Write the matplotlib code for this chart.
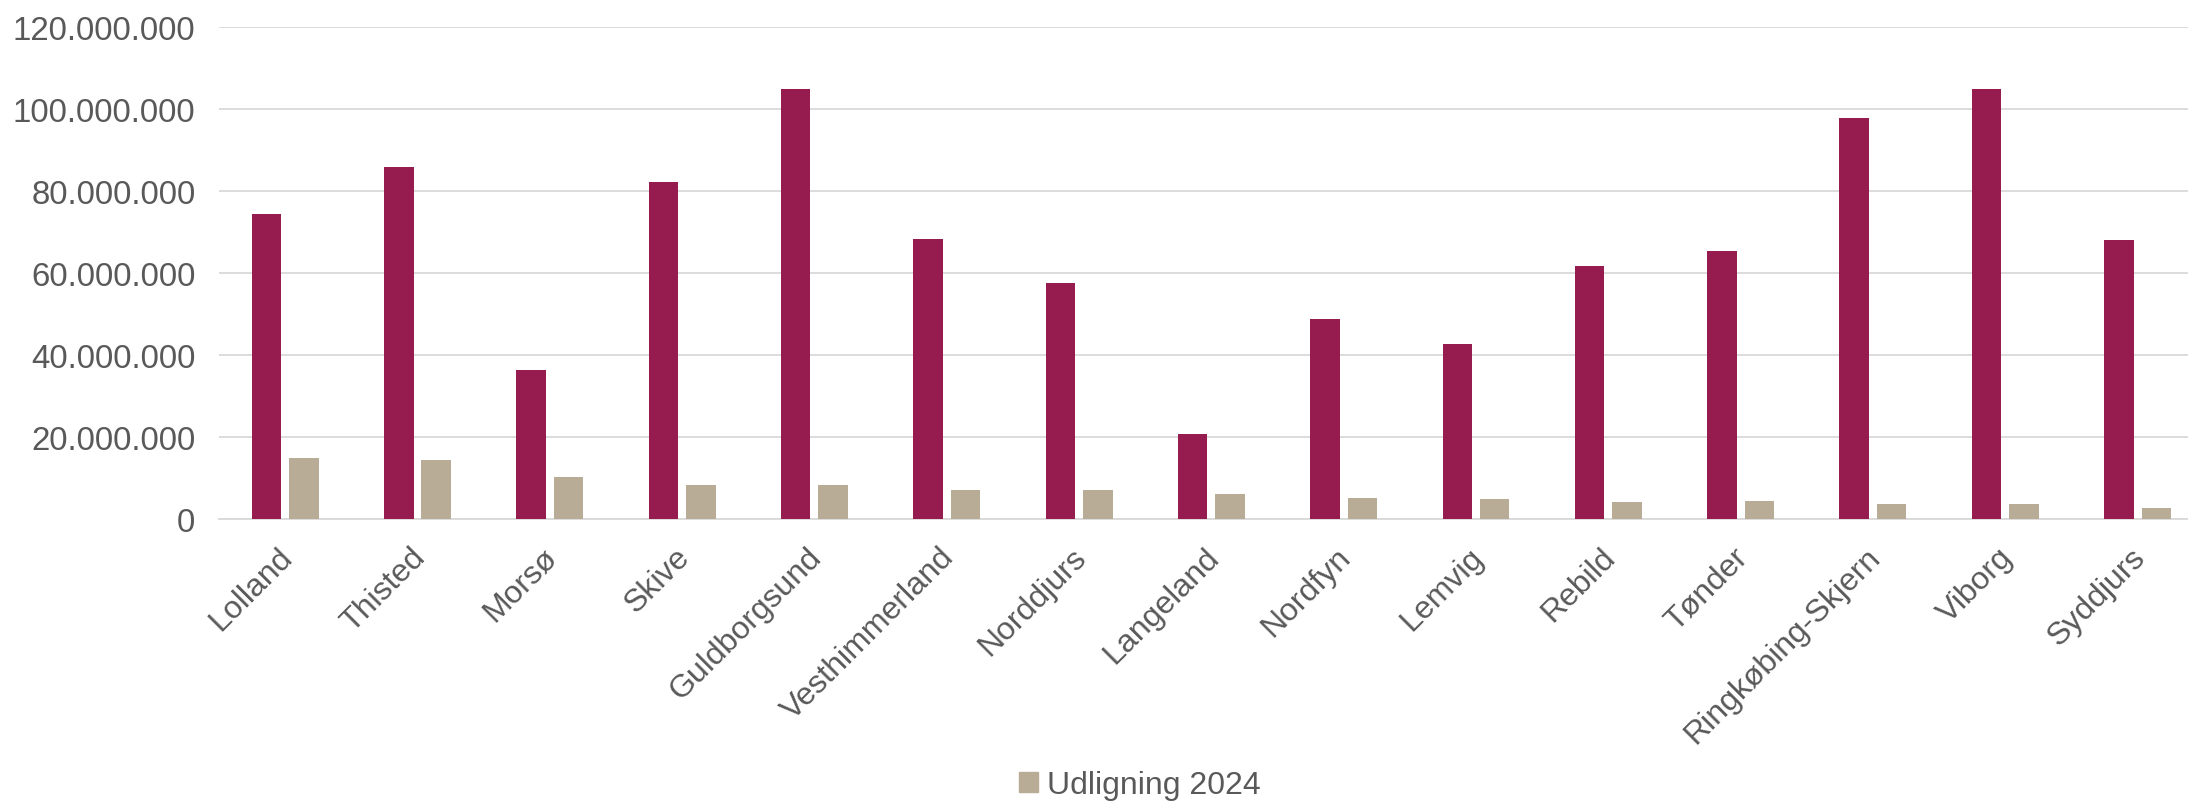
import numpy as np
import matplotlib
matplotlib.use("Agg")
import matplotlib.pyplot as plt
from matplotlib.ticker import FuncFormatter, MultipleLocator
from matplotlib.patches import Patch
from matplotlib.transforms import ScaledTranslation

plt.rcParams['font.family'] = ['Liberation Sans', 'DejaVu Sans']

kommuner = ["Lolland", "Thisted", "Morsø", "Skive", "Guldborgsund",
            "Vesthimmerland", "Norddjurs", "Langeland", "Nordfyn", "Lemvig",
            "Rebild", "Tønder", "Ringkøbing-Skjern", "Viborg", "Syddjurs"]
# første serie (uden forklaring) og udligning 2024, kr.
serie_1 = [74.3e6, 85.9e6, 36.2e6, 82.1e6, 104.8e6,
           68.2e6, 57.5e6, 20.7e6, 48.7e6, 42.6e6,
           61.7e6, 65.3e6, 97.7e6, 104.9e6, 68.1e6]
udligning_2024 = [14.9e6, 14.5e6, 10.3e6, 8.4e6, 8.2e6,
                  7.0e6, 7.1e6, 6.1e6, 5.1e6, 4.9e6,
                  4.1e6, 4.3e6, 3.7e6, 3.6e6, 2.8e6]

MAROON = "#961C50"
BEIGE = "#B9AC96"
GREY_TXT = "#595959"
GRID = "#D9D9D9"

fig = plt.figure(figsize=(21.88, 8.04), dpi=100)
ax = fig.add_axes([0.1001, 0.3532, 0.9071, 0.6124])

x = np.arange(len(kommuner))
w = 0.223
off = 0.1415
ax.bar(x - off, serie_1, width=w, color=MAROON, zorder=3)
ax.bar(x + off, udligning_2024, width=w, color=BEIGE, zorder=3)

ax.set_xlim(-0.5, len(kommuner) - 0.5)
ax.set_ylim(0, 120e6)
ax.yaxis.set_major_locator(MultipleLocator(20e6))
ax.yaxis.set_major_formatter(FuncFormatter(lambda v, p: f"{int(round(v)):,}".replace(",", ".")))
ax.grid(axis="y", color=GRID, linewidth=1.3, zorder=0)
ax.set_axisbelow(True)

for s in ["top", "right", "left"]:
    ax.spines[s].set_visible(False)
ax.spines["bottom"].set_color(GRID)
ax.spines["bottom"].set_linewidth(1.3)

ax.tick_params(axis="y", length=0, pad=17, labelsize=23.8, labelcolor=GREY_TXT)
ax.tick_params(axis="x", length=0, pad=19, labelsize=23, labelcolor=GREY_TXT)
ax.set_xticks(x)
ax.set_xticklabels(kommuner, rotation=45, ha="right", va="center", rotation_mode="anchor")
# flyt de skrå navne lidt ned og til højre
shift = ScaledTranslation(2 / 72, -5 / 72, fig.dpi_scale_trans)
for lbl in ax.get_xticklabels():
    lbl.set_transform(lbl.get_transform() + shift)

fig.legend(handles=[Patch(color=BEIGE, label="Udligning 2024")],
           loc="center", bbox_to_anchor=(0.521, 0.022), frameon=False,
           fontsize=23, labelcolor=GREY_TXT, handlelength=0.6, handleheight=0.6,
           handletextpad=0.3)

fig.savefig("out.png", dpi=100)
